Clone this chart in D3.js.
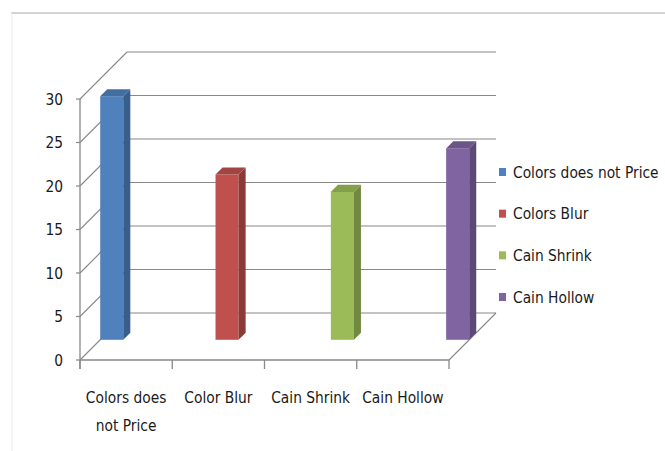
<!DOCTYPE html>
<html><head><meta charset="utf-8">
<script src="https://cdn.jsdelivr.net/npm/d3@7"></script>
<style>
body{margin:0;background:#fff;}
svg{display:block;font-family:"Liberation Sans Narrow","DejaVu Sans Condensed","Roboto",sans-serif;}
</style>
</head><body>
<svg id="c" width="665" height="451"></svg>
<script>
// ---- data ----
const categories = ["Colors does not Price", "Color Blur", "Cain Shrink", "Cain Hollow"];
const categoryLines = [["Colors does", "not Price"], ["Color Blur"], ["Cain Shrink"], ["Cain Hollow"]];
const seriesNames = ["Colors does not Price", "Colors Blur", "Cain Shrink", "Cain Hollow"];
const seriesValues = [28, 19, 17, 22];
const yTicks = [0, 5, 10, 15, 20, 25, 30];
const seriesColors = ["#4F81BD", "#C0504D", "#9BBB59", "#8064A2"];

// ---- layout ----
const svg = d3.select("#c");
const plot = {left: 80, right: 449, bottom: 360, top: 99};
const y = d3.scaleLinear().domain([0, 30]).range([plot.bottom, plot.top]);
const xCat = d3.scaleBand().domain(categories).range([plot.left, plot.right]);
const depth = d3.scaleLinear().domain([0, 1]).range([0, 47]); // oblique offset (x:+, y:-)
const xBar = d3.scaleBand().domain(seriesNames).range([plot.left, plot.right]).paddingInner(0.8).paddingOuter(0);

const gridColor = "#888888";
const textScale = "scale(0.96,1.04)";

// outer frame
svg.append("line").attr("x1", 11).attr("x2", 665).attr("y1", 13).attr("y2", 13)
  .attr("stroke", "#d4d4d4").attr("stroke-width", 2);
svg.append("line").attr("x1", 12).attr("x2", 12).attr("y1", 13).attr("y2", 451)
  .attr("stroke", "#ececec").attr("stroke-width", 1);

const D = depth(1);
// back wall gridlines
svg.append("g").selectAll("line").data(yTicks).join("line")
  .attr("x1", plot.left + D).attr("x2", plot.right + D)
  .attr("y1", d => y(d) - D).attr("y2", d => y(d) - D)
  .attr("stroke", gridColor).attr("stroke-width", 1.2);
// side wall gridlines
svg.append("g").selectAll("line").data(yTicks).join("line")
  .attr("x1", plot.left).attr("x2", plot.left + D)
  .attr("y1", d => y(d)).attr("y2", d => y(d) - D)
  .attr("stroke", gridColor).attr("stroke-width", 1.1);
// floor right edge
svg.append("line").attr("x1", plot.right).attr("y1", y(0)).attr("x2", plot.right + D).attr("y2", y(0) - D)
  .attr("stroke", gridColor).attr("stroke-width", 1.1);

// y axis
svg.append("line").attr("x1", plot.left).attr("x2", plot.left).attr("y1", y(30)).attr("y2", y(0) + 9)
  .attr("stroke", gridColor).attr("stroke-width", 1.3);
svg.append("g").selectAll("line").data(yTicks).join("line")
  .attr("x1", plot.left - 4).attr("x2", plot.left).attr("y1", d => y(d)).attr("y2", d => y(d))
  .attr("stroke", gridColor).attr("stroke-width", 1.2);
svg.append("g").selectAll("text").data(yTicks).join("text")
  .attr("transform", d => `translate(63,${y(d)}) ${textScale}`)
  .attr("text-anchor", "end").attr("dominant-baseline", "central")
  .attr("font-size", 16).attr("fill", "#1a1a1a").text(d => d);

// x axis
svg.append("line").attr("x1", plot.left).attr("x2", plot.right).attr("y1", y(0)).attr("y2", y(0))
  .attr("stroke", gridColor).attr("stroke-width", 1.4);
const xTickPos = categories.map(c => xCat(c)).concat([plot.right]);
svg.append("g").selectAll("line").data(xTickPos).join("line")
  .attr("x1", d => d).attr("x2", d => d).attr("y1", y(0)).attr("y2", y(0) + 9)
  .attr("stroke", gridColor).attr("stroke-width", 1.3);
const catG = svg.append("g").selectAll("text").data(categories).join("text")
  .attr("transform", d => `translate(${xCat(d) + xCat.bandwidth() / 2},403) ${textScale}`)
  .attr("text-anchor", "middle").attr("font-size", 16).attr("fill", "#1a1a1a");
catG.selectAll("tspan").data((d, i) => categoryLines[i]).join("tspan")
  .attr("x", 0).attr("dy", (d, i) => i === 0 ? 0 : 27).text(d => d);

// bars
const off = depth(0.43), dd = depth(0.15);
const bw = xBar.bandwidth();
const bars = svg.append("g").selectAll("g").data(seriesNames).join("g");
bars.each(function(s, i) {
  const g = d3.select(this);
  const c = d3.color(seriesColors[i]);
  const xl = xBar(s) + off, xr = xl + bw;
  const yt = y(seriesValues[i]) - off, yb = y(0) - off;
  g.append("rect").attr("x", xl).attr("y", yt).attr("width", bw).attr("height", yb - yt).attr("fill", c.formatHex());
  g.append("path").attr("d", `M${xr},${yt}L${xr + dd},${yt - dd}L${xr + dd},${yb - dd}L${xr},${yb}Z`)
    .attr("fill", c.darker(0.9).formatHex());
  g.append("path").attr("d", `M${xl},${yt}L${xl + dd},${yt - dd}L${xr + dd},${yt - dd}L${xr},${yt}Z`)
    .attr("fill", c.darker(0.45).formatHex());
});

// legend
const ly = d3.scalePoint().domain(seriesNames).range([172, 297]);
const leg = svg.append("g").selectAll("g").data(seriesNames).join("g")
  .attr("transform", d => `translate(499,${ly(d)})`);
leg.append("rect").attr("x", 0).attr("y", -4).attr("width", 7).attr("height", 8)
  .attr("fill", (d, i) => seriesColors[i]);
leg.append("text").attr("transform", `translate(14,0) ${textScale}`).attr("dominant-baseline", "central")
  .attr("font-size", 16).attr("fill", "#1a1a1a").text(d => d);
</script>
</body></html>
